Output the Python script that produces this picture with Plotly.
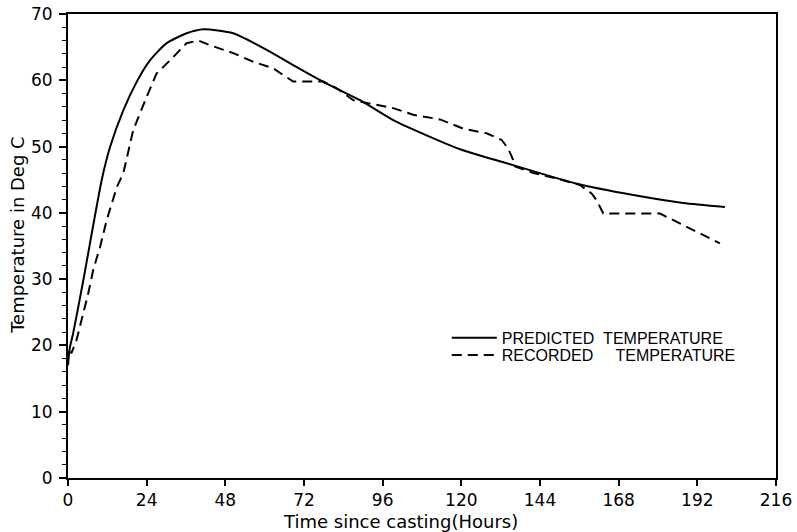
import plotly.graph_objects as go

# Predicted temperature (solid)
pred_hours = [0, 0.5, 1.6, 4.7, 6.7, 10.3, 12.8, 16.9, 21, 25, 30.1, 36.2, 41.3, 50.4, 60.6,
              68.7, 78.9, 89.1, 99.2, 109.4, 119.6, 135.8, 155.2, 172.5, 187.7, 200.4]
pred_temp = [17, 19.5, 21.9, 29.9, 35.4, 45, 49.9, 55.5, 59.8, 63, 65.6, 67.1, 67.7, 67.1, 64.6,
             62.3, 59.5, 57.0, 54, 51.7, 49.6, 47.2, 44.4, 42.7, 41.5, 40.9]

# Recorded temperature (dashed)
rec_hours = [0, 1.1, 2.6, 4.2, 6.2, 7.7, 9.8, 11.8, 14.9, 16.9, 19.9, 24, 27, 31.1, 36.2, 39.8,
             43.3, 50.4, 56.5, 62.6, 66.7, 68.7, 77.9, 82, 87, 92.1, 99.2, 105.3, 113.5, 120.6,
             127.7, 132.3, 134.3, 135.8, 136.4, 142, 149.1, 156.2, 159.8, 161.3, 163.3, 180.6,
             186.7, 191.8, 198.9]
rec_temp = [19, 18.9, 20.8, 23.8, 27.9, 31.4, 34.9, 38.9, 43.9, 46, 52.5, 57.5, 61, 63, 65.6, 66,
            65.3, 64.1, 62.8, 61.8, 60.5, 59.8, 59.8, 58.8, 57, 56.5, 55.8, 54.8, 54.1, 52.7,
            52, 51, 49.7, 48, 47, 46, 45.2, 44.2, 42.9, 41.9, 39.9, 39.9,
            38.4, 37.2, 35.4]

x_ticks = [0, 24, 48, 72, 96, 120, 144, 168, 192, 216]
y_ticks = [0, 10, 20, 30, 40, 50, 60, 70]

x_title = "Time since casting(Hours)"
y_title = "Temperature in Deg C"

font = "DejaVu Sans"
legend_font = dict(size=16, family="Liberation Sans Narrow, Liberation Sans", color="black")

fig = go.Figure()
fig.add_trace(go.Scatter(x=pred_hours, y=pred_temp, mode="lines",
                         name="PREDICTED\u00a0\u00a0TEMPERATURE", legend="legend",
                         line=dict(color="black", width=2, shape="spline", smoothing=0.6)))
fig.add_trace(go.Scatter(x=rec_hours, y=rec_temp, mode="lines",
                         name="RECORDED\u00a0\u00a0\u00a0\u00a0\u00a0TEMPERATURE", legend="legend2",
                         line=dict(color="black", width=2, dash="10px,6px")))

fig.update_layout(
    width=797, height=532,
    margin=dict(l=68, r=21, t=14, b=54),
    paper_bgcolor="white", plot_bgcolor="white",
    font=dict(family=font, color="black", size=17),
    showlegend=True,
    legend=dict(x=0.535, y=0.302, xanchor="left", yanchor="middle",
                bgcolor="rgba(0,0,0,0)", font=legend_font, itemwidth=45),
    legend2=dict(x=0.535, y=0.265, xanchor="left", yanchor="middle",
                 bgcolor="rgba(0,0,0,0)", font=legend_font, itemwidth=45),
    annotations=[
        dict(text=x_title, xref="paper", yref="paper", x=0.469, y=0, yshift=-43,
             xanchor="center", yanchor="middle", showarrow=False, font=dict(size=18)),
        dict(text=y_title, xref="paper", yref="paper", x=0, xshift=-50, y=0.524,
             xanchor="center", yanchor="middle", textangle=-90, showarrow=False,
             font=dict(size=18)),
    ],
)
fig.update_xaxes(
    range=[0, 216], tickvals=x_ticks, ticktext=[str(v) for v in x_ticks],
    showgrid=False, zeroline=False, showline=True, linecolor="black", linewidth=2,
    mirror=True, ticks="outside", ticklen=6, tickwidth=1.5, tickcolor="black",
    automargin=False, ticklabeloverflow="allow",
)
fig.update_yaxes(
    range=[0, 70], tickvals=y_ticks, ticktext=[str(v) for v in y_ticks],
    showgrid=False, zeroline=False, showline=True, linecolor="black", linewidth=2,
    mirror=True, ticks="outside", ticklen=7, tickwidth=1.5, tickcolor="black",
    automargin=False, ticklabelstandoff=3, ticklabeloverflow="allow",
    minor=dict(dtick=2, ticks="outside", ticklen=4, tickwidth=1, tickcolor="black"),
)

fig.write_html("out.html", config={"displayModeBar": False},
               post_script="document.body.style.margin='0';")
